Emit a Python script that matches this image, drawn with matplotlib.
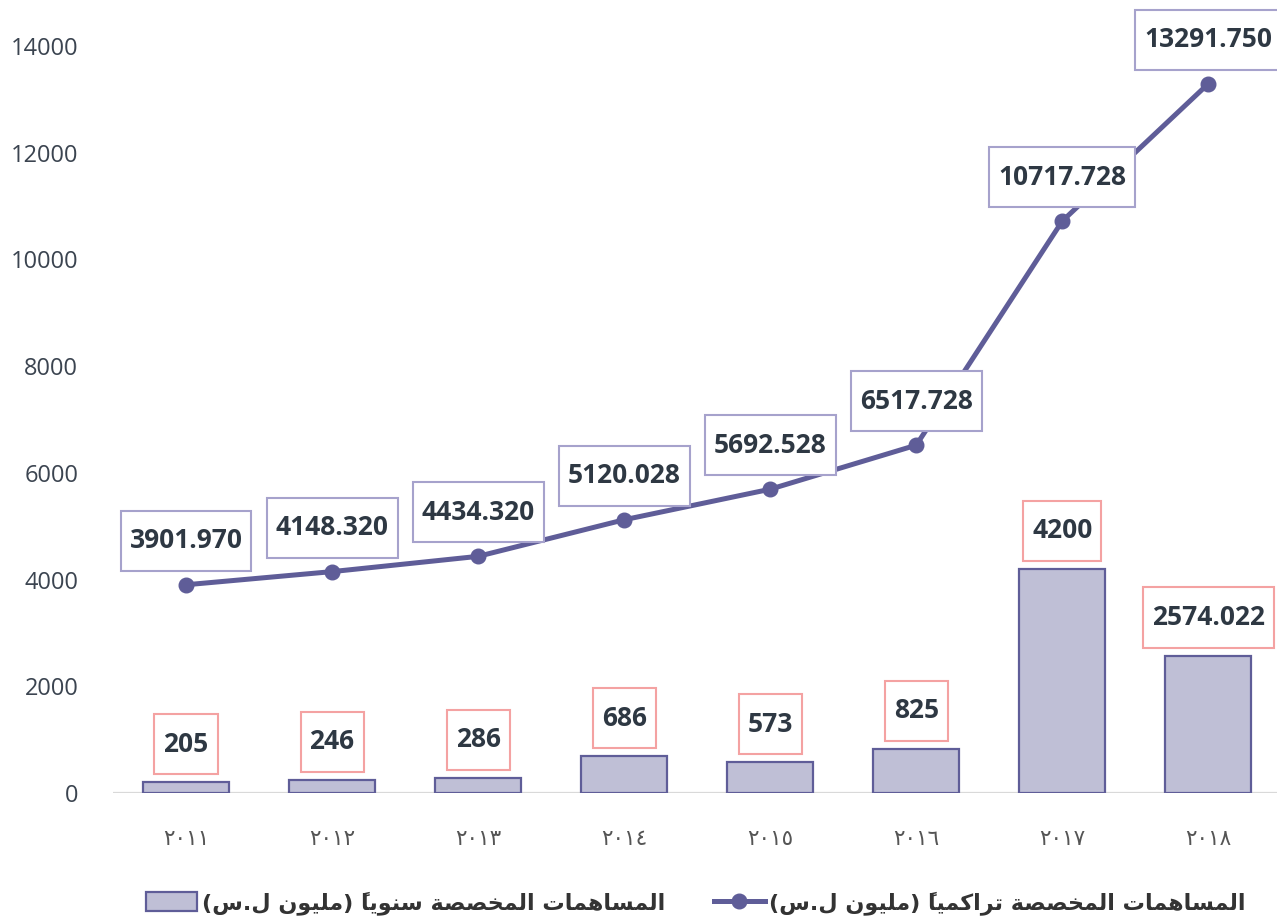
import matplotlib
matplotlib.use("Agg")
import matplotlib.pyplot as plt
from matplotlib.path import Path
from matplotlib.lines import Line2D
from matplotlib.patches import Patch

# ---------------- data ----------------
years = ['٢٠١١', '٢٠١٢', '٢٠١٣', '٢٠١٤', '٢٠١٥', '٢٠١٦', '٢٠١٧', '٢٠١٨']
annual = [205, 246, 286, 686, 573, 825, 4200, 2574.022]
annual_labels = ['205', '246', '286', '686', '573', '825', '4200', '2574.022']
cumulative = [3901.970, 4148.320, 4434.320, 5120.028, 5692.528, 6517.728, 10717.728, 13291.750]
cumulative_labels = ['3901.970', '4148.320', '4434.320', '5120.028', '5692.528',
                     '6517.728', '10717.728', '13291.750']
legend_annual = 'المساهمات المخصصة سنوياً (مليون ل.س)'
legend_cumulative = 'المساهمات المخصصة تراكمياً (مليون ل.س)'
yticks = [0, 2000, 4000, 6000, 8000, 10000, 12000, 14000]

# ---------------- minimal Arabic shaping (matplotlib has no RTL shaping) ----------------
FORMS = {
    'ا': ('\uFE8D', '\uFE8E', None, None),
    'ل': ('\uFEDD', '\uFEDE', '\uFEDF', '\uFEE0'),
    'م': ('\uFEE1', '\uFEE2', '\uFEE3', '\uFEE4'),
    'س': ('\uFEB1', '\uFEB2', '\uFEB3', '\uFEB4'),
    'ه': ('\uFEE9', '\uFEEA', '\uFEEB', '\uFEEC'),
    'ت': ('\uFE95', '\uFE96', '\uFE97', '\uFE98'),
    'خ': ('\uFEA5', '\uFEA6', '\uFEA7', '\uFEA8'),
    'ص': ('\uFEB9', '\uFEBA', '\uFEBB', '\uFEBC'),
    'ة': ('\uFE93', '\uFE94', None, None),
    'ن': ('\uFEE5', '\uFEE6', '\uFEE7', '\uFEE8'),
    'و': ('\uFEED', '\uFEEE', None, None),
    'ي': ('\uFEF1', '\uFEF2', '\uFEF3', '\uFEF4'),
    'ر': ('\uFEAD', '\uFEAE', None, None),
    'ك': ('\uFED9', '\uFEDA', '\uFEDB', '\uFEDC'),
}


def is_mark(c):
    return '\u064B' <= c <= '\u0652'


def jtype(c):
    if c in FORMS:
        return 'D' if FORMS[c][2] else 'R'
    return 'U'


def shape_ar(s):
    ch = list(s)
    n = len(ch)
    out = []
    for i, c in enumerate(ch):
        if c not in FORMS:
            out.append(c)
            continue
        j = i - 1
        while j >= 0 and is_mark(ch[j]):
            j -= 1
        k = i + 1
        while k < n and is_mark(ch[k]):
            k += 1
        pj = j >= 0 and jtype(ch[j]) == 'D'
        nj = FORMS[c][2] is not None and k < n and jtype(ch[k]) in ('D', 'R')
        iso, fin, ini, med = FORMS[c]
        out.append(med if (pj and nj) else fin if pj else ini if nj else iso)
    out.reverse()
    mirror = {'(': ')', ')': '('}
    return ''.join(mirror.get(c, c) for c in out)


# ---------------- custom label box ----------------
class LabelBox:
    def __init__(self, padx, half_h):
        self.padx = padx
        self.half_h = half_h

    def __call__(self, x0, y0, width, height, mutation_size):
        px = self.padx * mutation_size
        hh = self.half_h * mutation_size
        cy = y0 + height / 2.0
        xa, xb = x0 - px, x0 + width + px
        return Path([(xa, cy - hh), (xb, cy - hh), (xb, cy + hh), (xa, cy + hh), (xa, cy - hh)],
                    closed=True)


# ---------------- figure ----------------
W, H = 1277, 921
fig = plt.figure(figsize=(W / 100, H / 100), dpi=100)
ax = fig.add_axes([113 / W, 1 - 793 / H, 1 - 113 / W, (793 - 40) / H])

bar_face = '#BFBFD6'
dark = '#5F5D98'
text_col = '#2E3843'

x = list(range(len(years)))
ax.bar(x, annual, width=0.59, color=bar_face, edgecolor=dark, linewidth=1.6, zorder=2)
ax.plot(x, cumulative, color=dark, linewidth=3.6, marker='o', markersize=10.5, zorder=3,
        solid_capstyle='round')

ax.set_xlim(-0.5, 7.47)
ax.set_ylim(0, 14110)
ax.set_yticks(yticks)
ax.set_yticklabels([str(v) for v in yticks], fontsize=17, color='#3B4450', family='Open Sans')
ax.set_xticks(x)
ax.set_xticklabels(years, fontsize=15.5, color='#555555', family='DejaVu Sans')
ax.tick_params(axis='y', length=0, pad=25)
ax.tick_params(axis='x', length=0, pad=26)
for s in ax.spines.values():
    s.set_visible(False)
ax.axhline(0, color='#D9D9D9', linewidth=1.6, zorder=1)

label_fs = 19
for xi, v, lab in zip(x, cumulative, cumulative_labels):
    ax.annotate(lab, (xi, v), xytext=(0, 31.7), textcoords='offset points',
                ha='center', va='center', fontsize=label_fs, fontweight='bold',
                color=text_col, family='Open Sans', zorder=5, annotation_clip=False,
                bbox=dict(boxstyle=LabelBox(0.34, 1.14), facecolor='white',
                          edgecolor='#A6A2CC', linewidth=1.5))
for xi, v, lab in zip(x, annual, annual_labels):
    ax.annotate(lab, (xi, v), xytext=(0, 27.4), textcoords='offset points',
                ha='center', va='center', fontsize=label_fs, fontweight='bold',
                color=text_col, family='Open Sans', zorder=5, annotation_clip=False,
                bbox=dict(boxstyle=LabelBox(0.34, 1.14), facecolor='white',
                          edgecolor='#F4A2A2', linewidth=1.5))

handles = [Patch(facecolor=bar_face, edgecolor=dark, linewidth=1.6),
           Line2D([0], [0], color=dark, linewidth=3.6, marker='o', markersize=10.5)]
labels = [shape_ar(legend_annual), shape_ar(legend_cumulative)]
fig.legend(handles, labels, loc='center', bbox_to_anchor=(696 / W, 1 - 903 / H), ncol=2,
           frameon=False, prop=dict(family='DejaVu Sans', weight='bold', size=16),
           handlelength=2.3, handleheight=0.9, handletextpad=0.2, columnspacing=2.2,
           labelcolor='#333333')

fig.savefig('out.png', dpi=100)
